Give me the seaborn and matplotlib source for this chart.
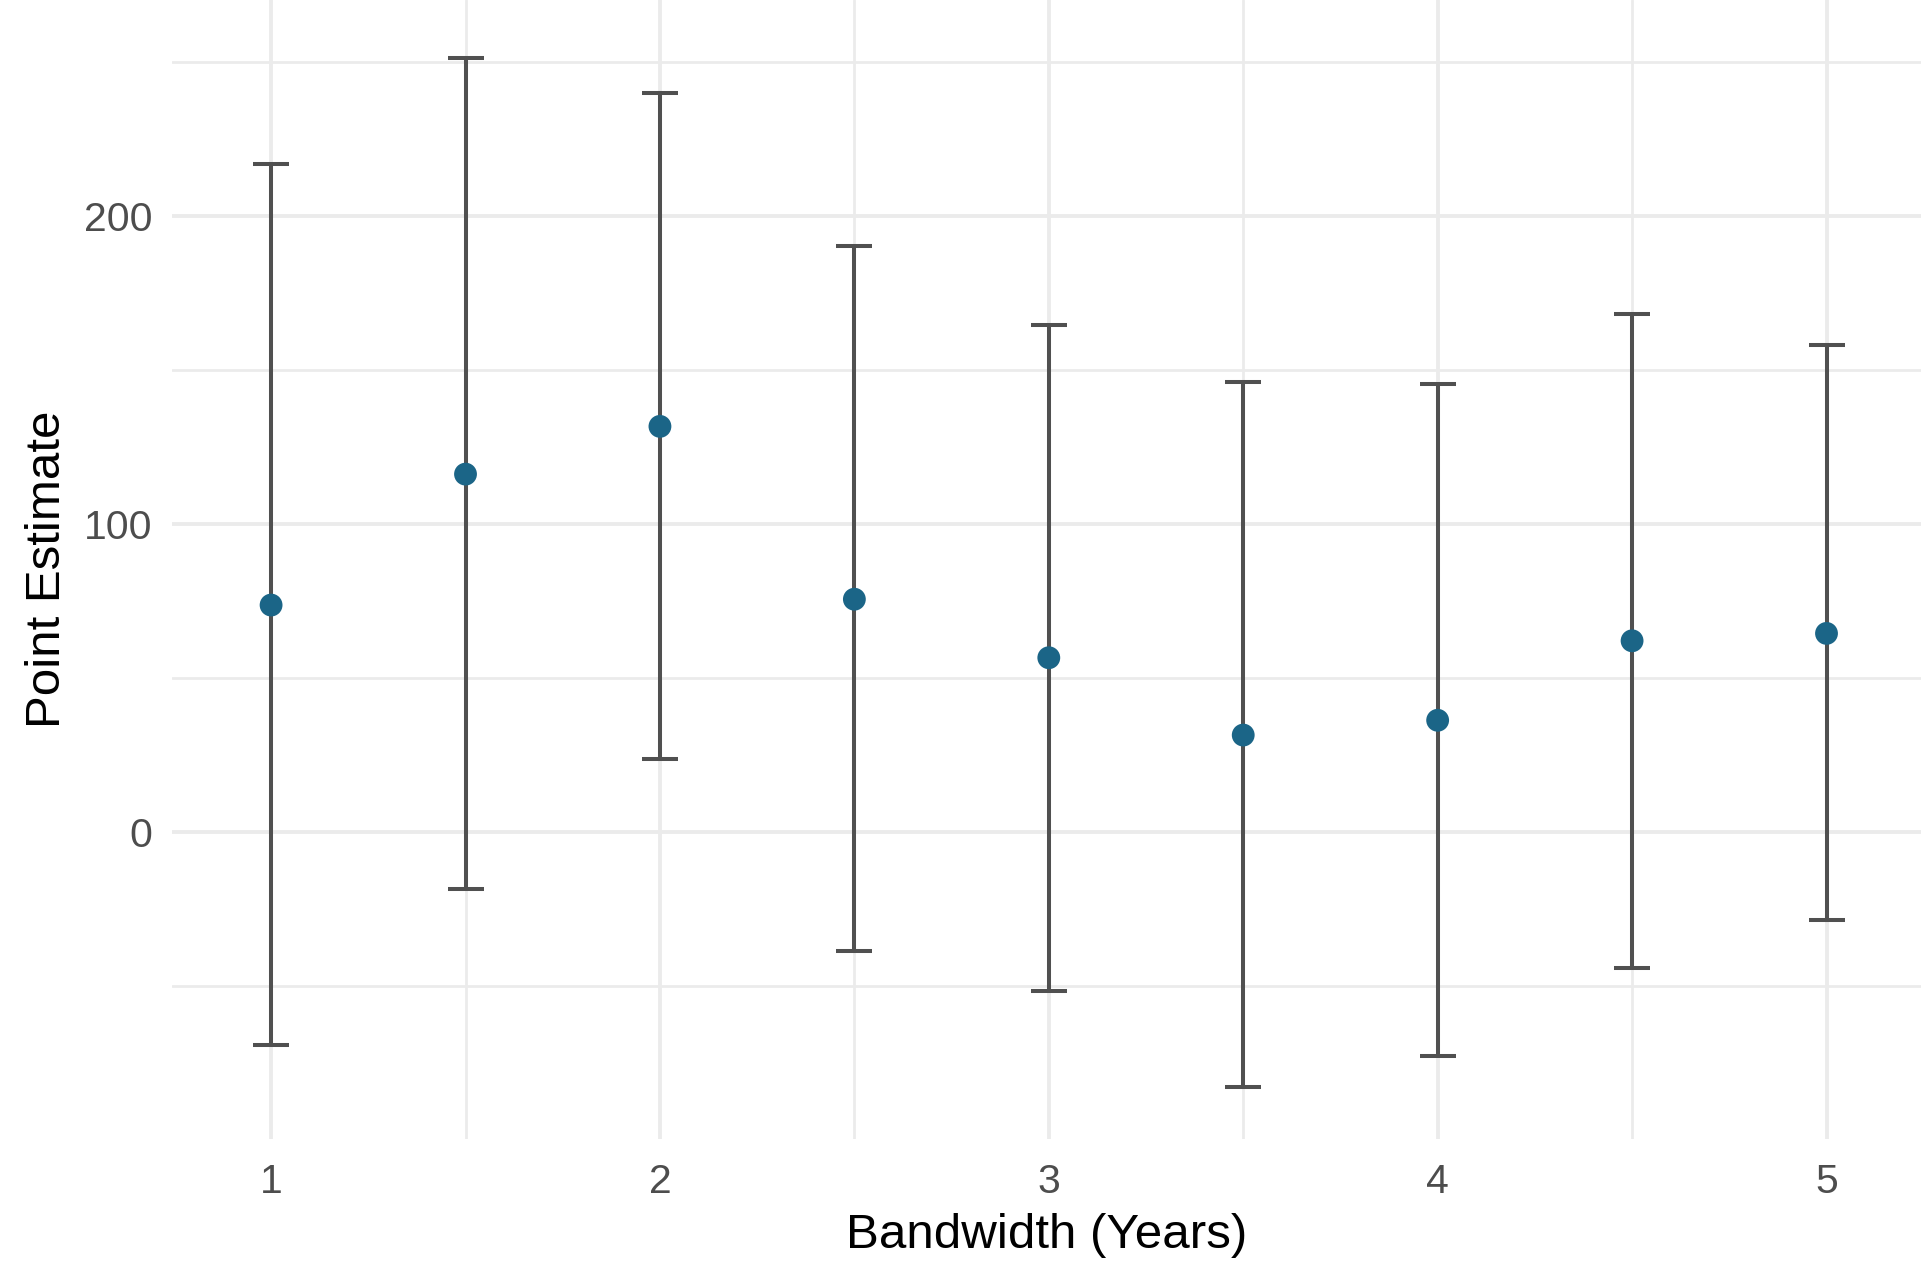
import numpy as np
import pandas as pd
import matplotlib
matplotlib.use("Agg")
import matplotlib.pyplot as plt
import seaborn as sns

# Bandwidths and estimates
bandwidth = [1.0, 1.5, 2.0, 2.5, 3.0, 3.5, 4.0, 4.5, 5.0]
estimate = [73.6, 116.1, 131.6, 75.5, 56.5, 31.4, 36.2, 62.0, 64.4]
ci_upper = [216.7, 251.3, 239.8, 190.1, 164.6, 145.9, 145.5, 168.2, 157.9]
ci_lower = [-69.2, -18.7, 23.5, -38.6, -51.7, -82.7, -72.8, -44.1, -28.6]

df = pd.DataFrame({"bw": bandwidth, "est": estimate, "hi": ci_upper, "lo": ci_lower})

sns.set_style("white")
plt.rcParams['font.family'] = ['Liberation Sans', 'DejaVu Sans']

fig = plt.figure(figsize=(19.21, 12.62), dpi=100)
ax = fig.add_axes([0.0895, 0.0975, 0.9105, 0.9025])

# grid like ggplot theme_minimal
for v in [-50, 50, 150, 250]:
    ax.axhline(v, color="#ebebeb", lw=2.0, zorder=0)
for v in [1.5, 2.5, 3.5, 4.5]:
    ax.axvline(v, color="#ebebeb", lw=2.0, zorder=0)
for v in [0, 100, 200]:
    ax.axhline(v, color="#ebebeb", lw=2.8, zorder=0)
for v in [1, 2, 3, 4, 5]:
    ax.axvline(v, color="#ebebeb", lw=2.8, zorder=0)

ax.errorbar(df["bw"], df["est"],
            yerr=[df["est"] - df["lo"], df["hi"] - df["est"]],
            fmt="none", ecolor="#505050", elinewidth=2.9, capsize=13, capthick=2.9, zorder=2)
sns.scatterplot(data=df, x="bw", y="est", color="#1b6587", s=270, edgecolor="none", zorder=3, ax=ax)

ax.set_xlim(0.745, 5.243)
ax.set_ylim(-99.7, 270.0)
ax.set_xticks([1, 2, 3, 4, 5])
ax.set_yticks([0, 100, 200])
ax.tick_params(axis="both", length=0, labelsize=29.5, labelcolor="#4d4d4d")
ax.tick_params(axis="x", pad=17)
ax.tick_params(axis="y", pad=14)
for s in ax.spines.values():
    s.set_visible(False)

ax.set_xlabel("Bandwidth (Years)", fontsize=35.5, color="black", labelpad=9)
ax.set_ylabel("Point Estimate", fontsize=35.5, color="black", labelpad=10)

fig.savefig("out.png", dpi=100)
